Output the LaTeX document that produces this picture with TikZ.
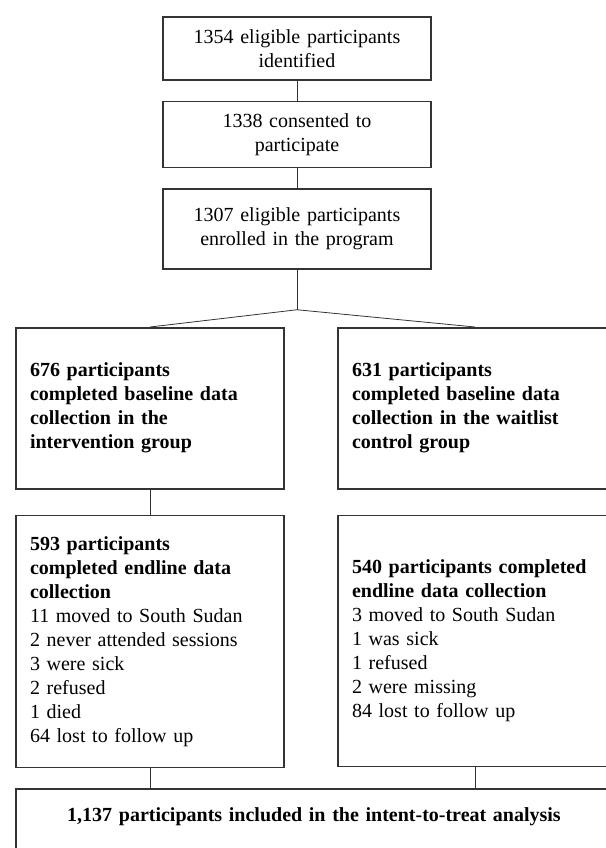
\documentclass[tikz,border=0pt]{standalone}
\usepackage{fontspec}
\setmainfont{Liberation Serif}
\usetikzlibrary{calc,positioning,chains}
\tikzset{
		flowbox/.style={
			rectangle,
			draw=black!80, line width=1.5pt,
			text width=240pt,
			inner xsep=14pt,
			align=center,
			font=\fontsize{20}{24}\selectfont},
		topbox/.style={flowbox, on chain},
		armbox/.style={flowbox, align=left, anchor=north},
		line/.style={draw=black!80, line width=0.8pt},
		every join/.style={line},
	}

\begin{document}
\begin{tikzpicture}
				[x=1pt, y=-1pt,
				node distance=20pt,
				start chain=going below,]
				\useasboundingbox (0,0) rectangle (605,848);
				\node[topbox, minimum height=63pt] (ident) at (297,48.5) {1354 eligible participants\\identified};
				\node[topbox, join, minimum height=66pt] (consent) {1338 consented to\\participate};
				\node[topbox, join, minimum height=80pt] (enrol) {1307 eligible participants\\enrolled in the program};
				
				%% the two arms
				\coordinate (split) at ($(enrol.south)+(0,40)$);
				\node[armbox, minimum height=161pt] (base1) at (150,327) {\bfseries 676 participants\\completed baseline data\\collection in the\\intervention group};
				\node[armbox, text width=246pt, minimum height=161pt] (base2) at (475,327) {\bfseries 631 participants\\completed baseline data\\collection in the waitlist\\control group};
				\node[armbox, minimum height=252pt, below=25pt of base1] (end1) {\textbf{593 participants}\\\textbf{completed endline data}\\\textbf{collection}\\11 moved to South Sudan\\2 never attended sessions\\3 were sick\\2 refused\\1 died\\64 lost to follow up};
				\node[armbox, text width=246pt, minimum height=251pt, below=25pt of base2] (end2) {\textbf{540 participants completed}\\\textbf{endline data collection}\\3 moved to South Sudan\\1 was sick\\1 refused\\2 were missing\\84 lost to follow up};
				
				%% analysis
				\node[flowbox, text width=568pt, minimum height=68pt, text depth=16pt, anchor=north] (itt) at (314,788) {\bfseries 1,137 participants included in the intent-to-treat analysis};
				
				\draw[line] (enrol.south) -- (split);
				\draw[line] (split) -- (base1.north);
				\draw[line] (split) -- (base2.north);
				\draw[line] (base1) -- (end1);
				\draw[line] (end1.south) -- (end1.south |- itt.north);
				\draw[line] (end2.south) -- (end2.south |- itt.north);
				
				\end{tikzpicture}
\end{document}
